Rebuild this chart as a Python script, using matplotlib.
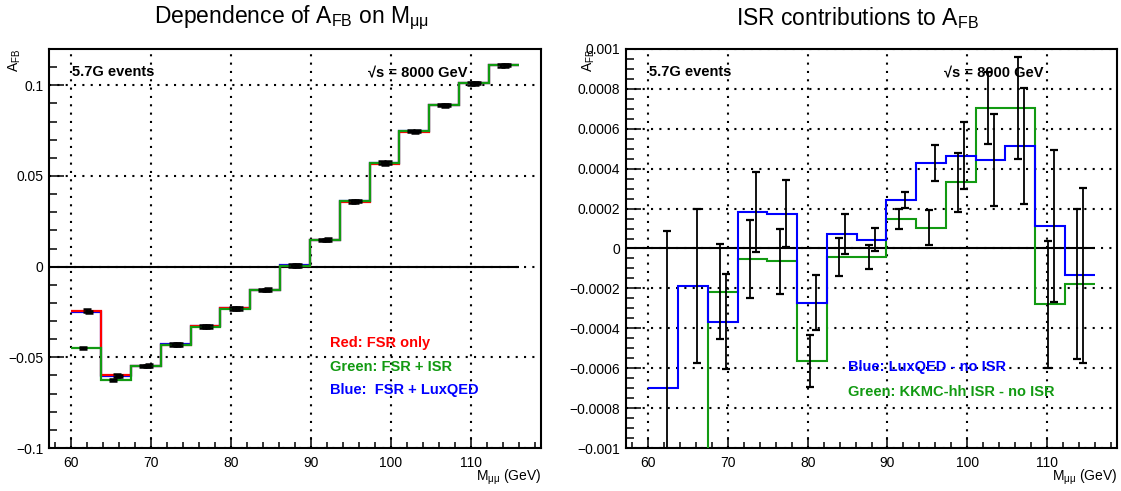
import matplotlib
matplotlib.use("Agg")
import matplotlib.pyplot as plt
import numpy as np
from matplotlib.ticker import MultipleLocator, FuncFormatter

plt.rcParams['font.family'] = ['Liberation Sans', 'DejaVu Sans']
plt.rcParams['mathtext.fontset'] = 'custom'
plt.rcParams['mathtext.rm'] = 'Liberation Sans'
plt.rcParams['mathtext.it'] = 'Liberation Sans:italic'
plt.rcParams['mathtext.bf'] = 'Liberation Sans:bold'

# M_mumu bin edges (GeV)
edges = [60, 63.73, 67.47, 71.2, 74.93, 78.67, 82.4, 86.13, 89.87,
         93.6, 97.33, 101.07, 104.8, 108.53, 112.27, 116]

# left: A_FB vs M_mumu
afb_fsr = [-0.0243, -0.0600, -0.0548, -0.0430, -0.0330, -0.0230, -0.0128, 0.0006,
           0.0148, 0.0358, 0.0568, 0.0743, 0.0889, 0.1010, 0.1110]
afb_isr = [-0.0448, -0.0624, -0.0548, -0.0430, -0.0331, -0.0232, -0.0128, 0.0006,
           0.0148, 0.0360, 0.0573, 0.0748, 0.0890, 0.1010, 0.1110]
afb_lux = [-0.0250, -0.0602, -0.0546, -0.0428, -0.0329, -0.0230, -0.0127, 0.0007,
           0.0149, 0.0362, 0.0573, 0.0748, 0.0891, 0.1012, 0.1111]
afb_err = [0.0007, 0.0007, 0.0007, 0.0007, 0.0007, 0.0007, 0.0007, 0.0007,
           0.0007, 0.0007, 0.0007, 0.0007, 0.0007, 0.0007, 0.0007]

# right: ISR contributions
d_lux = [-0.00070, -0.000188, -0.000367, 0.000181, 0.000174, -0.000273, 0.000072, 0.000044,
         0.000244, 0.000428, 0.000465, 0.000442, 0.000514, 0.000114, -0.000135]
d_lux_err = [0.00079, 0.000386, 0.000239, 0.00020, 0.000167, 0.000138, 0.00010, 0.000058,
             0.00004, 0.000092, 0.000168, 0.00023, 0.00029, 0.00038, 0.00044]
d_kkmc = [-0.0025, -0.0018, -0.000216, -0.000052, -0.000064, -0.000566, -0.000043, -0.000041,
          0.000147, 0.000105, 0.000331, 0.000706, 0.000706, -0.00028, -0.000179]
d_kkmc_err = [0.0006, 0.0004, 0.000239, 0.000197, 0.000162, 0.00013, 0.000095, 0.000061,
              0.000051, 0.000089, 0.000147, 0.00018, 0.000255, 0.00032, 0.000375]

red = '#ff0000'
green = '#129a12'
blue = '#0000ff'

centers = 0.5 * (np.array(edges[:-1]) + np.array(edges[1:]))


def fmt(v, pos):
    s = '%g' % round(v, 7)
    return s.replace('-', '\u2212')


def style(ax, ymaj, ymin, ylab_x):
    ax.set_xlim(57.2, 118.8)
    ax.xaxis.set_major_locator(MultipleLocator(10))
    ax.xaxis.set_minor_locator(MultipleLocator(2))
    ax.yaxis.set_major_locator(MultipleLocator(ymaj))
    ax.yaxis.set_minor_locator(MultipleLocator(ymin))
    ax.xaxis.set_major_formatter(FuncFormatter(fmt))
    ax.yaxis.set_major_formatter(FuncFormatter(fmt))
    ax.tick_params(which='both', direction='in', width=1.1, labelsize=10)
    ax.tick_params(axis='x', which='major', length=8, pad=6)
    ax.tick_params(axis='x', which='minor', length=4)
    ax.tick_params(axis='y', which='major', length=11, pad=4)
    ax.tick_params(axis='y', which='minor', length=5.5)
    for sp in ax.spines.values():
        sp.set_linewidth(1.5)
    ax.grid(True, which='major', color='black', linestyle=(0, (1, 3)), linewidth=1.5)
    ax.set_axisbelow(True)
    ax.hlines(0, 57.2, edges[-1], color='black', linewidth=1.5, zorder=2)
    ax.set_xlabel(r'M$_{\mathrm{μμ}}$ (GeV)', fontsize=10, loc='right')
    ax.xaxis.set_label_coords(1.0, -0.073)
    ax.xaxis.label.set_va('center')
    ax.set_ylabel(r'A$_{\mathrm{FB}}$', fontsize=10, loc='top')
    ax.yaxis.set_label_coords(ylab_x, 1.0)
    ax.text(0.047, 0.942, '5.7G events', transform=ax.transAxes, fontsize=10.5,
            fontweight='bold', ha='left', va='center')
    ax.text(0.85, 0.942, '\u221as = 8000 GeV', transform=ax.transAxes, fontsize=10.5,
            fontweight='bold', ha='right', va='center')


fig = plt.figure(figsize=(11.21, 4.91), dpi=100)
ax1 = fig.add_axes([49 / 1121, 43 / 491, 492 / 1121, 399 / 491])
ax2 = fig.add_axes([626 / 1121, 43 / 491, 491 / 1121, 399 / 491])

# left panel
style(ax1, 0.05, 0.01, -0.053)
ax1.set_ylim(-0.1, 0.12)
ax1.stairs(afb_lux, edges, baseline=None, color=blue, linewidth=1.6, zorder=3)
ax1.stairs(afb_fsr, edges, baseline=None, color=red, linewidth=1.6, zorder=3)
ax1.stairs(afb_isr, edges, baseline=None, color=green, linewidth=1.6, zorder=3)
for vals, off in [(afb_fsr, 0.1), (afb_isr, -0.35), (afb_lux, 0.4)]:
    ax1.errorbar(centers + off, vals, yerr=afb_err, fmt='none', ecolor='black',
                 elinewidth=1.5, capsize=2.6, capthick=1.8, zorder=4)
ax1.text(0.571, 0.263, 'Red: FSR only', transform=ax1.transAxes, color=red,
         fontsize=10.5, fontweight='bold', va='center')
ax1.text(0.571, 0.203, 'Green: FSR + ISR', transform=ax1.transAxes, color=green,
         fontsize=10.5, fontweight='bold', va='center')
ax1.text(0.571, 0.145, 'Blue:  FSR + LuxQED', transform=ax1.transAxes, color=blue,
         fontsize=10.5, fontweight='bold', va='center')

# right panel
style(ax2, 0.0002, 0.00005, -0.059)
ax2.set_ylim(-0.001, 0.001)
ax2.stairs(d_kkmc, edges, baseline=None, color=green, linewidth=1.5, zorder=3)
ax2.stairs(d_lux, edges, baseline=None, color=blue, linewidth=1.5, zorder=3)
ax2.errorbar(centers - 0.3, d_kkmc, yerr=d_kkmc_err, fmt='none', ecolor='black',
             elinewidth=1.3, capsize=2.6, capthick=1.6, zorder=4)
ax2.errorbar(centers + 0.45, d_lux, yerr=d_lux_err, fmt='none', ecolor='black',
             elinewidth=1.3, capsize=2.6, capthick=1.6, zorder=4)
ax2.text(0.452, 0.203, 'Blue: LuxQED - no ISR', transform=ax2.transAxes, color=blue,
         fontsize=10.5, fontweight='bold', va='center')
ax2.text(0.452, 0.14, 'Green: KKMC-hh ISR - no ISR', transform=ax2.transAxes, color=green,
         fontsize=10.5, fontweight='bold', va='center')

fig.text(291 / 1121, 1 - 18 / 491, r'Dependence of A$_{\mathrm{FB}}$ on M$_{\mathrm{μμ}}$',
         ha='center', va='center', fontsize=16.5)
fig.text(857 / 1121, 1 - 18 / 491, r'ISR contributions to A$_{\mathrm{FB}}$',
         ha='center', va='center', fontsize=16.5)

fig.savefig('out.png', dpi=100)
